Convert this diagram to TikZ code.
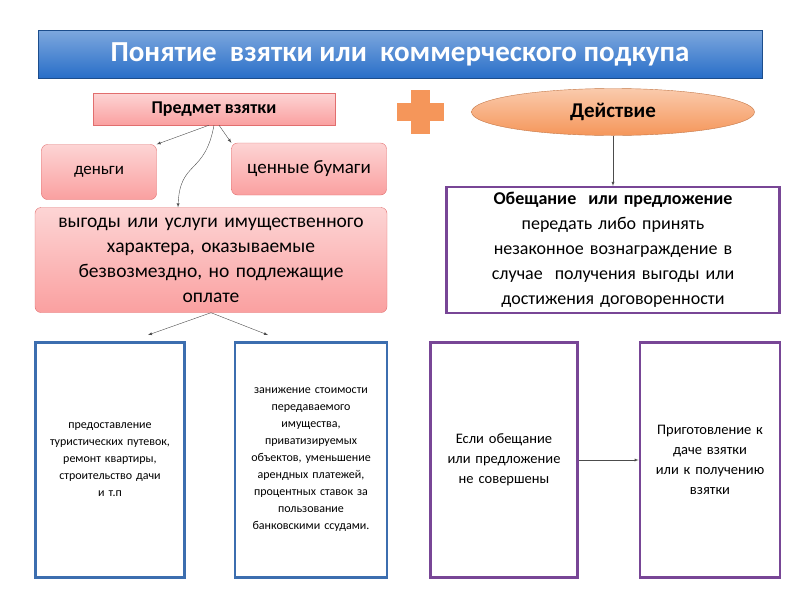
\documentclass[tikz,border=0pt]{standalone}
\usepackage{fontspec}
\setmainfont{Carlito}
\usetikzlibrary{shapes.geometric}
\definecolor{bannerblue}{RGB}{40,110,200}
\definecolor{pinkbox}{RGB}{250,160,160}
\definecolor{pinkedge}{RGB}{225,110,110}
\definecolor{orangeell}{RGB}{245,150,90}
\definecolor{framepurple}{RGB}{120,70,150}
\definecolor{frameblue}{RGB}{60,110,175}
\tikzset{
  pinkbox/.style={draw=pinkedge,rounded corners=6pt,top color=pinkbox!45,bottom color=pinkbox,align=center},
  plainbox/.style={draw=#1,line width=2.2pt,fill=white,align=center},
  arr/.style={-latex,black!70}
}
\begin{document}
\begin{tikzpicture}[x=1pt,y=-1pt]
\useasboundingbox (0,0) rectangle (800,600);
% title
\node[draw=bannerblue!70!black,top color=bannerblue!60,bottom color=bannerblue,minimum width=724pt,minimum height=48pt,text=white,font=\bfseries\fontsize{29}{32}\selectfont] (title) at (400,54) {Понятие \ взятки или \ коммерческого подкупа};
% subject
\node[pinkbox,rounded corners=0pt,minimum width=242pt,minimum height=32pt,font=\bfseries\fontsize{18}{21}\selectfont] (subj) at (214,109) {Предмет взятки};
\node[pinkbox,minimum width=115pt,minimum height=55pt,font=\fontsize{17}{20}\selectfont] (money) at (99,172) {деньги};
\node[pinkbox,minimum width=155pt,minimum height=52pt,font=\fontsize{19}{22}\selectfont] (bonds) at (309,169) {ценные бумаги};
\node[pinkbox,minimum width=352pt,minimum height=105pt,text width=345pt,font=\fontsize{19.5}{25}\selectfont] (gain) at (211,260) {выгоды или услуги имущественного\\ характера, оказываемые\\ безвозмездно, но подлежащие\\ оплате};
\draw[arr] (subj.south) ++(-5,0) -- (money.north east);
\draw[arr] (subj.south) ++(5,0) -- (bonds.north west);
\draw[arr] (subj.south) ++(0,0) .. controls (205,175) and (180,160) .. (gain.north -| 178,0);
% plus
\fill[orangeell] (411,90) rectangle (430,134);
\fill[orangeell] (397,103) rectangle (444,121);
% action
\node[ellipse,draw=orangeell!80!black,top color=orangeell!50,bottom color=orangeell,minimum width=283pt,minimum height=47pt,font=\bfseries\fontsize{21}{24}\selectfont] (act) at (613,112) {Действие};
\node[plainbox=framepurple,minimum width=333pt,minimum height=126pt,text width=325pt,font=\fontsize{18}{25}\selectfont] (promise) at (613,250) {\textbf{Обещание \ или предложение}\\ передать либо принять\\ незаконное вознаграждение в\\ случае \ получения выгоды или\\ достижения договоренности};
\draw[arr] (act) -- (promise);
% bottom boxes
\node[plainbox=frameblue,minimum width=149pt,minimum height=235pt,text width=140pt,font=\fontsize{12}{17}\selectfont] (trip) at (110,460) {предоставление\\ туристических путевок,\\ ремонт квартиры,\\ строительство дачи\\ и т.п};
\node[plainbox=frameblue,minimum width=151pt,minimum height=235pt,text width=145pt,font=\fontsize{12}{17}\selectfont] (lower) at (311,460) {занижение стоимости\\ передаваемого\\ имущества,\\ приватизируемых\\ объектов, уменьшение\\ арендных платежей,\\ процентных ставок за\\ пользование\\ банковскими ссудами.};
\draw[arr] (gain.south) -- (148,335);
\draw[arr] (gain.south) -- (268,335);
\node[plainbox=framepurple,minimum width=147pt,minimum height=235pt,text width=140pt,font=\fontsize{14.5}{20}\selectfont] (ifnot) at (504,460) {Если обещание\\ или предложение\\ не совершены};
\node[plainbox=framepurple,minimum width=139pt,minimum height=235pt,text width=134pt,font=\fontsize{14.5}{20}\selectfont] (prep) at (710,460) {Приготовление к\\ даче взятки\\ или к получению\\ взятки};
\draw[arr] (ifnot) -- (prep);
\end{tikzpicture}
\end{document}
